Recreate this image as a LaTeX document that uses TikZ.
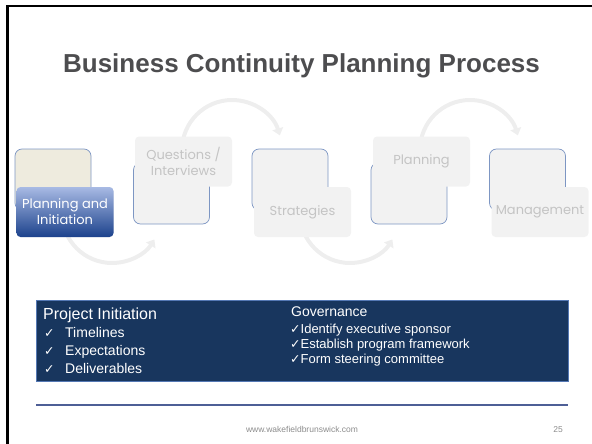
\documentclass[tikz,border=0pt]{standalone}
\usepackage{fontspec}
\setmainfont{Liberation Sans}
\newfontfamily\gothic{Poppins}
\newfontfamily\symfont{DejaVu Sans}
\usetikzlibrary{arrows.meta}

\definecolor{titlegray}{RGB}{77,77,79}
\definecolor{stepfill}{RGB}{242,242,242}
\definecolor{steptext}{RGB}{196,196,196}
\definecolor{stepline}{RGB}{125,150,195}
\definecolor{beige}{RGB}{238,235,222}
\definecolor{navy}{RGB}{24,54,94}
\definecolor{navyline}{RGB}{84,120,180}
\definecolor{rulecol}{RGB}{78,95,150}
\definecolor{arcgray}{RGB}{238,238,238}
\definecolor{bluetop}{RGB}{168,186,228}
\definecolor{bluebot}{RGB}{28,66,140}
\definecolor{footgray}{RGB}{140,140,140}

\newcommand\checkmk{{\symfont\fontsize{12.5}{14}\selectfont ✓}}

\tikzset{
  square/.style={draw=stepline, line width=0.7pt, fill=stepfill, rounded corners=7pt,
    minimum width=76pt, minimum height=61pt, inner sep=0pt},
  stepbox/.style={fill=stepfill, rounded corners=4pt, minimum width=97pt, minimum height=50pt,
    inner sep=0pt, text=steptext, align=center, font=\gothic\fontsize{13}{16}\selectfont},
  turnarc/.style={draw=arcgray, line width=4pt, -{Triangle[length=7pt,width=11pt]}},
  paneltext/.style={text=white, anchor=base west, inner sep=0pt}
}

\begin{document}
\begin{tikzpicture}[x=1pt,y=-1pt]
\useasboundingbox (0,0) rectangle (592,444);
\draw [line width=3pt] (7.5,444) -- (7.5,6);
\draw [line width=2pt] (6,6) -- (592,6);

\node [font=\bfseries\fontsize{26}{30}\selectfont, text=titlegray, anchor=base] (title)
  at (301.5,73) {Business Continuity Planning Process};

% arcs between the steps
\coordinate (low1) at (112,213);
\coordinate (high1) at (232,150);
\coordinate (low2) at (350,213);
\coordinate (high2) at (470,150);
\draw [turnarc] (low1) ++(180:50pt) arc (180:328:50pt);
\draw [turnarc] (high1) ++(180:50pt) arc (180:17:50pt);
\draw [turnarc] (low2) ++(180:50pt) arc (180:328:50pt);
\draw [turnarc] (high2) ++(180:50pt) arc (180:17:50pt);

% steps
\node [square, fill=beige] (sq1) at (53,179.5) {};
\node [stepbox, top color=bluetop, bottom color=bluebot, text=white] (lab1) at (65,212) {Planning and\\Initiation};
\node [square] (sq2) at (171.5,193.5) {};
\node [stepbox] (lab2) at (183.5,161.5) {Questions /\\Interviews};
\node [square] (sq3) at (290,179.5) {};
\node [stepbox] (lab3) at (302.5,212) {Strategies};
\node [square] (sq4) at (409,193.5) {};
\node [stepbox] (lab4) at (421.5,161.5) {Planning};
\node [square] (sq5) at (527.5,179.5) {};
\node [stepbox] (lab5) at (540,212) {Management};

% detail panel
\node [fill=navy, draw=navyline, line width=0.8pt, minimum width=532pt, minimum height=81pt, inner sep=0pt] (panel) at (302,340.5) {};
\node [paneltext, font=\fontsize{16}{18}\selectfont] (initiation) at (43,319) {Project Initiation};
\node [paneltext, font=\fontsize{14}{16}\selectfont] (timelines) at (44,337) {\makebox[21pt][l]{\checkmk}Timelines};
\node [paneltext, font=\fontsize{14}{16}\selectfont] (expect) at (44,355) {\makebox[21pt][l]{\checkmk}Expectations};
\node [paneltext, font=\fontsize{14}{16}\selectfont] (deliver) at (44,373) {\makebox[21pt][l]{\checkmk}Deliverables};
\node [paneltext, font=\fontsize{14}{16}\selectfont] (governance) at (291,316) {Governance};
\node [paneltext, font=\fontsize{13}{15}\selectfont] (sponsor) at (290,333) {\checkmk Identify executive sponsor};
\node [paneltext, font=\fontsize{13}{15}\selectfont] (framework) at (290,348) {\checkmk Establish program framework};
\node [paneltext, font=\fontsize{13}{15}\selectfont] (steering) at (290,363) {\checkmk Form steering committee};

\draw [rulecol, line width=2pt] (36,405) -- (568,405);
\node [text=footgray, font=\fontsize{8.5}{10}\selectfont, anchor=base] (site) at (302,432) {www.wakefieldbrunswick.com};
\node [text=footgray, font=\fontsize{8.5}{10}\selectfont, anchor=base] (pageno) at (558,432) {25};
\end{tikzpicture}
\end{document}
